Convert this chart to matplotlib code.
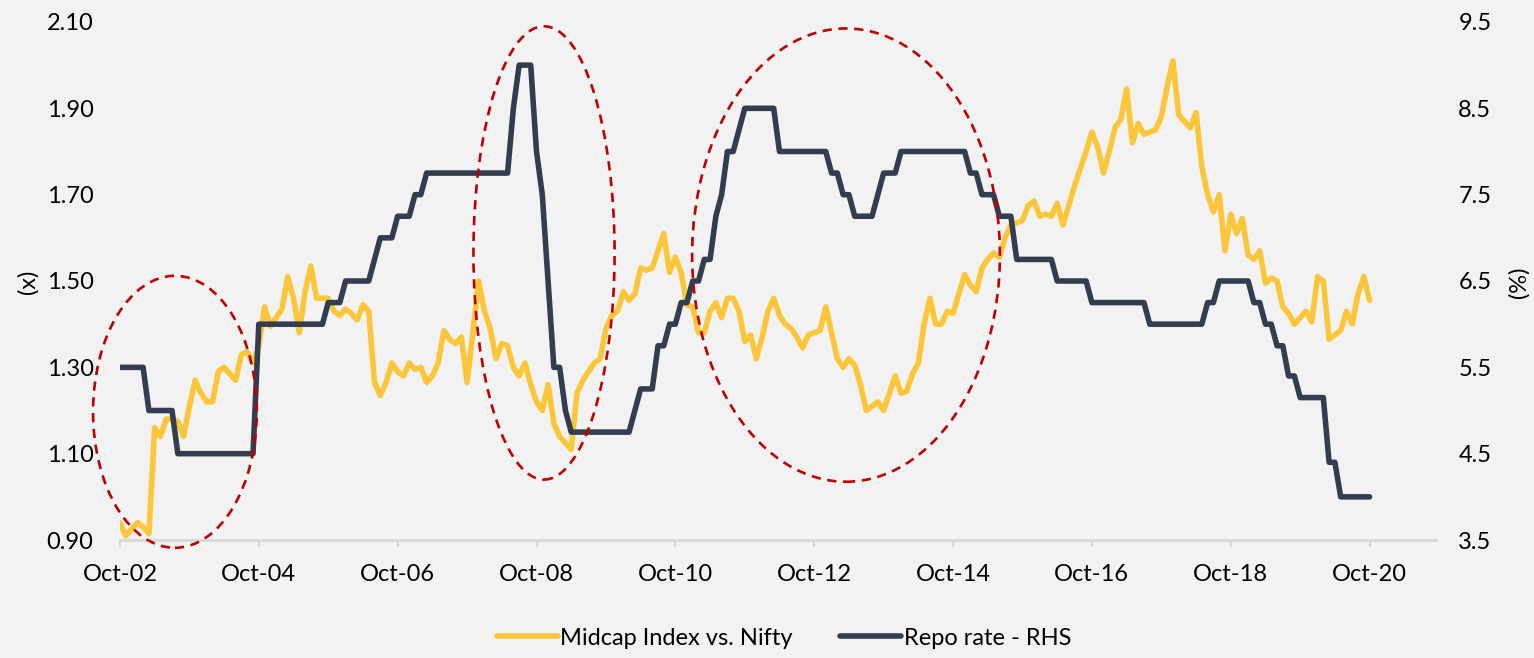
import matplotlib
matplotlib.use("Agg")
import matplotlib.pyplot as plt
from matplotlib.patches import Ellipse
import numpy as np

# monthly data, Oct-02 .. Oct-20
midcap = [
    0.94, 0.91, 0.925, 0.94, 0.93, 0.915, 1.16, 1.14, 1.18, 1.18,
    1.175, 1.14, 1.21, 1.27, 1.24, 1.22, 1.22, 1.29, 1.30, 1.285,
    1.27, 1.33, 1.335, 1.31, 1.35, 1.44, 1.395, 1.415, 1.435, 1.51,
    1.46, 1.38, 1.475, 1.535, 1.46, 1.46, 1.46, 1.43, 1.42, 1.435,
    1.425, 1.41, 1.445, 1.43, 1.265, 1.235, 1.265, 1.31, 1.29, 1.28,
    1.31, 1.295, 1.30, 1.265, 1.28, 1.31, 1.385, 1.365, 1.355, 1.37,
    1.265, 1.38, 1.50, 1.43, 1.39, 1.32, 1.355, 1.35, 1.30, 1.28,
    1.31, 1.26, 1.22, 1.20, 1.26, 1.17, 1.14, 1.125, 1.11, 1.24,
    1.27, 1.29, 1.31, 1.32, 1.39, 1.42, 1.43, 1.475, 1.455, 1.47,
    1.53, 1.525, 1.53, 1.57, 1.61, 1.52, 1.555, 1.52, 1.445, 1.44,
    1.38, 1.38, 1.43, 1.45, 1.415, 1.46, 1.46, 1.43, 1.36, 1.375,
    1.32, 1.37, 1.43, 1.46, 1.42, 1.40, 1.39, 1.37, 1.345, 1.375,
    1.38, 1.385, 1.44, 1.38, 1.32, 1.30, 1.32, 1.305, 1.26, 1.20,
    1.21, 1.22, 1.20, 1.24, 1.28, 1.24, 1.245, 1.285, 1.31, 1.40,
    1.46, 1.40, 1.40, 1.43, 1.425, 1.47, 1.515, 1.49, 1.475, 1.53,
    1.55, 1.565, 1.555, 1.60, 1.63, 1.635, 1.64, 1.675, 1.685, 1.65,
    1.655, 1.65, 1.68, 1.63, 1.675, 1.72, 1.76, 1.80, 1.845, 1.81,
    1.75, 1.80, 1.855, 1.875, 1.945, 1.82, 1.865, 1.84, 1.845, 1.85,
    1.88, 1.95, 2.01, 1.885, 1.87, 1.855, 1.89, 1.765, 1.70, 1.66,
    1.70, 1.57, 1.655, 1.61, 1.645, 1.56, 1.55, 1.57, 1.495, 1.507,
    1.50, 1.44, 1.425, 1.40, 1.415, 1.43, 1.405, 1.51, 1.50, 1.365,
    1.375, 1.385, 1.43, 1.40, 1.47, 1.51, 1.455,
]

# repo rate as (level, number of months at that level)
repo_levels = [5.5, 5.0, 4.5, 6.0, 6.25, 6.5, 6.75, 7.0, 7.25, 7.5, 7.75, 8.5, 9.0,
               8.0, 7.5, 6.5, 5.5, 5.0, 4.75, 5.0, 5.25, 5.75, 6.0, 6.25, 6.5, 6.75,
               7.25, 7.5, 8.0, 8.25, 8.5, 8.0, 7.75, 7.5, 7.25, 7.5, 7.75, 8.0, 7.75,
               7.5, 7.25, 6.75, 6.5, 6.25, 6.0, 6.25, 6.5, 6.25, 6.0, 5.75, 5.4, 5.15,
               4.4, 4.0]
repo_months = [5, 5, 14, 12, 3, 5, 1, 3, 3, 2, 15, 1, 3,
               1, 1, 1, 2, 1, 11, 1, 3, 2, 2, 2, 2, 2,
               1, 1, 2, 1, 6, 9, 2, 2, 4, 1, 3, 12, 2,
               3, 3, 7, 6, 10, 10, 2, 6, 2, 2, 2, 2, 5,
               2, 6]
repo = np.repeat(repo_levels, repo_months)

tick_labels = ['Oct-02', 'Oct-04', 'Oct-06', 'Oct-08', 'Oct-10',
               'Oct-12', 'Oct-14', 'Oct-16', 'Oct-18', 'Oct-20']

# highlighted periods: (centre month, centre value on left axis, width in months, height)
circles = [(9.5, 1.197, 28.3, 0.63), (73.3, 1.565, 24.4, 1.05), (125.5, 1.56, 53.2, 1.05)]

months = np.arange(len(midcap))

plt.rcParams['font.family'] = ['Lato', 'DejaVu Sans']
bg = '#f2f2f2'
yellow = '#fbc63a'
navy = '#323e4f'

fig = plt.figure(figsize=(15.34, 6.58), dpi=100, facecolor=bg)
ax = fig.add_axes([0.0782, 0.1793, 0.858, 0.7873])
ax.set_facecolor(bg)
ax2 = ax.twinx()

ax.plot(months, midcap, color=yellow, lw=4.0, solid_joinstyle='round',
        solid_capstyle='round', label='Midcap Index vs. Nifty')
ax2.plot(months, repo, color=navy, lw=4.0, solid_joinstyle='round',
         solid_capstyle='round', label='Repo rate - RHS')

for cx, cy, w, h in circles:
    e = Ellipse((cx, cy), w, h, transform=ax.transData, fill=False,
                edgecolor='#c00000', lw=1.9, ls=(0, (3.5, 2.5)), clip_on=False, zorder=5)
    ax2.add_patch(e)

ax.set_xlim(0, 227.5)
ax.set_ylim(0.9, 2.1)
ax2.set_ylim(3.5, 9.5)
ax.set_yticks(np.arange(0.9, 2.11, 0.2))
ax.set_yticklabels(['%.2f' % v for v in np.arange(0.9, 2.11, 0.2)])
ax2.set_yticks(np.arange(3.5, 9.51, 1.0))
ax2.set_yticklabels(['%.1f' % v for v in np.arange(3.5, 9.51, 1.0)])
ax.set_xticks(np.arange(0, 217, 24))
ax.set_xticklabels(tick_labels)

for a in (ax, ax2):
    for s in ('top', 'left', 'right'):
        a.spines[s].set_visible(False)
    a.spines['bottom'].set_color('#d9d9d9')
    a.spines['bottom'].set_linewidth(2)
ax.tick_params(axis='y', length=0, pad=19, labelsize=17)
ax2.tick_params(axis='y', length=0, pad=16, labelsize=17)
ax.tick_params(axis='x', length=5, width=1.5, color='#d9d9d9', pad=12, labelsize=17)

fig.text(0.018, 0.571, '(x)', rotation=90, ha='center', va='center', fontsize=17)
fig.text(0.99, 0.571, '(%)', rotation=90, ha='center', va='center', fontsize=17)

h1, l1 = ax.get_legend_handles_labels()
h2, l2 = ax2.get_legend_handles_labels()
fig.legend(h1 + h2, l1 + l2, loc='center', bbox_to_anchor=(0.511, 0.03), ncol=2,
           frameon=False, fontsize=17, handlelength=2.6, handletextpad=0.1,
           columnspacing=2.0)

fig.savefig('out.png', dpi=100, facecolor=bg)
